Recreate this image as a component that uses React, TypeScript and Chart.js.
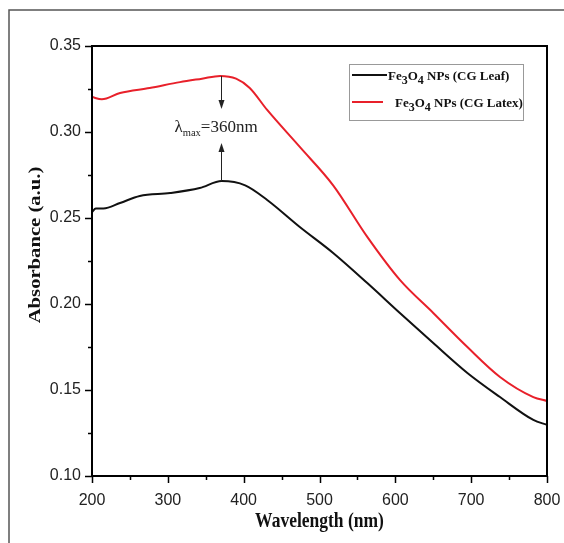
import React, { useEffect, useRef } from "react";
import { Chart, registerables } from "chart.js";
Chart.register(...registerables);

// ---- data ----
const leafWavelength = [200, 205, 215, 237, 263, 303, 342, 371, 402, 431, 474, 518, 563, 606, 650, 695, 738, 782, 800];
const leafAbsorbance = [0.2535, 0.2555, 0.2555, 0.2587, 0.2628, 0.2645, 0.2674, 0.2715, 0.2690, 0.2605, 0.2448, 0.2297, 0.2122, 0.1948, 0.1773, 0.1599, 0.1459, 0.1326, 0.1297];
const latexWavelength = [200, 213, 237, 276, 316, 345, 369, 390, 408, 431, 474, 518, 563, 606, 650, 695, 738, 782, 800];
const latexAbsorbance = [0.3203, 0.3190, 0.3227, 0.3256, 0.3290, 0.3310, 0.3326, 0.3310, 0.3256, 0.3128, 0.2913, 0.2690, 0.2390, 0.2140, 0.1948, 0.1750, 0.1576, 0.1459, 0.1436];
const xTickValues = [200, 300, 400, 500, 600, 700, 800];
const yTickValues = [0.10, 0.15, 0.20, 0.25, 0.30, 0.35];
const seriesNames = ["NPs (CG Leaf)", "NPs (CG Latex)"];
const seriesColors = ["#111111", "#e8202a"];
const xTitle = "Wavelength (nm)";
const yTitle = "Absorbance (a.u.)";
// annotation (data units)
const arrowWavelength = 370;
const arrowDownFrom = 0.3326;
const arrowDownTip = 0.3134;
const arrowUpTip = 0.2936;
const arrowUpFrom = 0.2715;
const labelBaseline = 0.3;
const lambdaLabel = "=360nm";

const STRETCH = 1.18;

type Part = { t: string; sub?: boolean };

function drawRich(c: CanvasRenderingContext2D, x: number, y: number, parts: Part[], size: number, bold: boolean, subSize: number, subDrop: number) {
  let cx = x;
  c.textAlign = "left";
  c.textBaseline = "alphabetic";
  for (const p of parts) {
    const s = p.sub ? subSize : size;
    c.font = `${bold ? "bold " : ""}${s}px "Liberation Serif"`;
    c.fillText(p.t, cx, y + (p.sub ? subDrop : 0));
    cx += c.measureText(p.t).width;
  }
}

const decor = {
  id: "decor",
  beforeDraw(chart: any) {
    const c = chart.ctx as CanvasRenderingContext2D;
    c.save();
    c.fillStyle = "#fff";
    c.fillRect(0, 0, chart.width, chart.height);
    c.strokeStyle = "#555";
    c.lineWidth = 1.5;
    c.beginPath();
    c.moveTo(9, chart.height);
    c.lineTo(9, 10);
    c.lineTo(chart.width, 10);
    c.stroke();
    c.restore();
  },
  afterDraw(chart: any) {
    const c = chart.ctx as CanvasRenderingContext2D;
    const a = chart.chartArea;
    const x = chart.scales.x;
    const y = chart.scales.y;
    c.save();
    c.strokeStyle = "#000";
    c.lineWidth = 2;
    c.strokeRect(a.left, a.top, a.right - a.left, a.bottom - a.top);
    // ticks
    c.lineWidth = 1.5;
    c.beginPath();
    for (let v = 200; v <= 800; v += 50) {
      const px = Math.round(x.getPixelForValue(v)) + 0.5;
      const len = v % 100 === 0 ? 7 : 4;
      c.moveTo(px, a.bottom);
      c.lineTo(px, a.bottom + len);
    }
    for (let i = 0; i <= 10; i++) {
      const v = 0.1 + i * 0.025;
      const py = Math.round(y.getPixelForValue(v)) + 0.5;
      const len = i % 2 === 0 ? 7 : 4;
      c.moveTo(a.left, py);
      c.lineTo(a.left - len, py);
    }
    c.stroke();

    // axis titles (source image is slightly stretched vertically)
    c.fillStyle = "#111";
    c.font = 'bold 17.5px "Liberation Serif"';
    c.textAlign = "center";
    c.textBaseline = "middle";
    c.save();
    c.translate((a.left + a.right) / 2, 522);
    c.scale(1, STRETCH);
    c.fillText(xTitle, 0, 0);
    c.restore();
    c.save();
    c.translate(35, (a.top + a.bottom) / 2 - 16);
    c.rotate(-Math.PI / 2);
    c.scale(STRETCH, 1);
    c.fillText(yTitle, 0, 0);
    c.restore();

    // arrows
    const ax = Math.round(x.getPixelForValue(arrowWavelength)) + 0.5;
    const y1 = y.getPixelForValue(arrowDownFrom);
    const y2 = y.getPixelForValue(arrowDownTip);
    const y3 = y.getPixelForValue(arrowUpTip);
    const y4 = y.getPixelForValue(arrowUpFrom);
    c.lineWidth = 1;
    c.strokeStyle = "#222";
    c.fillStyle = "#222";
    c.beginPath();
    c.moveTo(ax, y1);
    c.lineTo(ax, y2 - 6);
    c.moveTo(ax, y4);
    c.lineTo(ax, y3 + 6);
    c.stroke();
    c.beginPath();
    c.moveTo(ax, y2);
    c.lineTo(ax - 3, y2 - 9);
    c.lineTo(ax + 3, y2 - 9);
    c.closePath();
    c.fill();
    c.beginPath();
    c.moveTo(ax, y3);
    c.lineTo(ax - 3, y3 + 9);
    c.lineTo(ax + 3, y3 + 9);
    c.closePath();
    c.fill();

    // lambda max label
    const ly = y.getPixelForValue(labelBaseline);
    drawRich(c, ax - 47, ly, [{ t: "λ" }, { t: "max", sub: true }, { t: lambdaLabel }], 17, false, 10.5, 4);

    // legend
    c.fillStyle = "#fff";
    c.fillRect(349, 64, 174, 56);
    c.strokeStyle = "#999";
    c.lineWidth = 1;
    c.strokeRect(349.5, 64.5, 174, 56);
    const rows = [
      { y: 75, x1: 352, x2: 387, tx: 388 },
      { y: 102, x1: 352, x2: 383, tx: 395 },
    ];
    rows.forEach((r, i) => {
      c.strokeStyle = seriesColors[i];
      c.lineWidth = 2;
      c.beginPath();
      c.moveTo(r.x1, r.y);
      c.lineTo(r.x2, r.y);
      c.stroke();
      c.fillStyle = "#111";
      drawRich(
        c,
        r.tx,
        r.y + 5,
        [{ t: "Fe" }, { t: "3", sub: true }, { t: "O" }, { t: "4", sub: true }, { t: " " + seriesNames[i] }],
        13,
        true,
        12,
        4
      );
    });
    c.restore();
  },
};

export default function App() {
  const ref = useRef<HTMLCanvasElement | null>(null);
  useEffect(() => {
    if (!ref.current) return;
    const chart = new Chart(ref.current, {
      type: "line",
      data: {
        datasets: [
          {
            label: "Fe3O4 " + seriesNames[0],
            data: leafWavelength.map((w, i) => ({ x: w, y: leafAbsorbance[i] })),
            borderColor: seriesColors[0],
            borderWidth: 2,
            pointRadius: 0,
            cubicInterpolationMode: "monotone",
          },
          {
            label: "Fe3O4 " + seriesNames[1],
            data: latexWavelength.map((w, i) => ({ x: w, y: latexAbsorbance[i] })),
            borderColor: seriesColors[1],
            borderWidth: 2,
            pointRadius: 0,
            cubicInterpolationMode: "monotone",
          },
        ],
      },
      options: {
        animation: false,
        responsive: false,
        layout: { padding: { left: 0, top: 46, right: 17, bottom: 0 } },
        plugins: { legend: { display: false }, tooltip: { enabled: false } },
        scales: {
          x: {
            type: "linear",
            min: 200,
            max: 800,
            afterFit: (s: any) => {
              s.height = 67;
              s.paddingLeft = 0;
              s.paddingRight = 0;
            },
            afterBuildTicks: (s: any) => {
              s.ticks = xTickValues.map((v) => ({ value: v }));
            },
            grid: { display: false, drawTicks: false },
            border: { display: false },
            ticks: {
              color: "#222",
              padding: 15,
              maxRotation: 0,
              font: { family: '"Liberation Sans"', size: 16 },
              callback: (v: any) => String(v),
            },
          },
          y: {
            type: "linear",
            min: 0.1,
            max: 0.35,
            afterFit: (s: any) => {
              s.width = 92;
              s.paddingTop = 0;
              s.paddingBottom = 0;
            },
            afterBuildTicks: (s: any) => {
              s.ticks = yTickValues.map((v) => ({ value: v }));
            },
            grid: { display: false, drawTicks: false },
            border: { display: false },
            ticks: {
              color: "#222",
              padding: 11,
              font: { family: '"Liberation Sans"', size: 16 },
              callback: (v: any) => Number(v).toFixed(2),
            },
          },
        },
      },
      plugins: [decor],
    } as any);
    return () => chart.destroy();
  }, []);
  return (
    <div style={{ position: "absolute", left: 0, top: 0, width: 564, height: 543 }}>
      <canvas ref={ref} width={564} height={543} style={{ display: "block", width: 564, height: 543 }} />
    </div>
  );
}
